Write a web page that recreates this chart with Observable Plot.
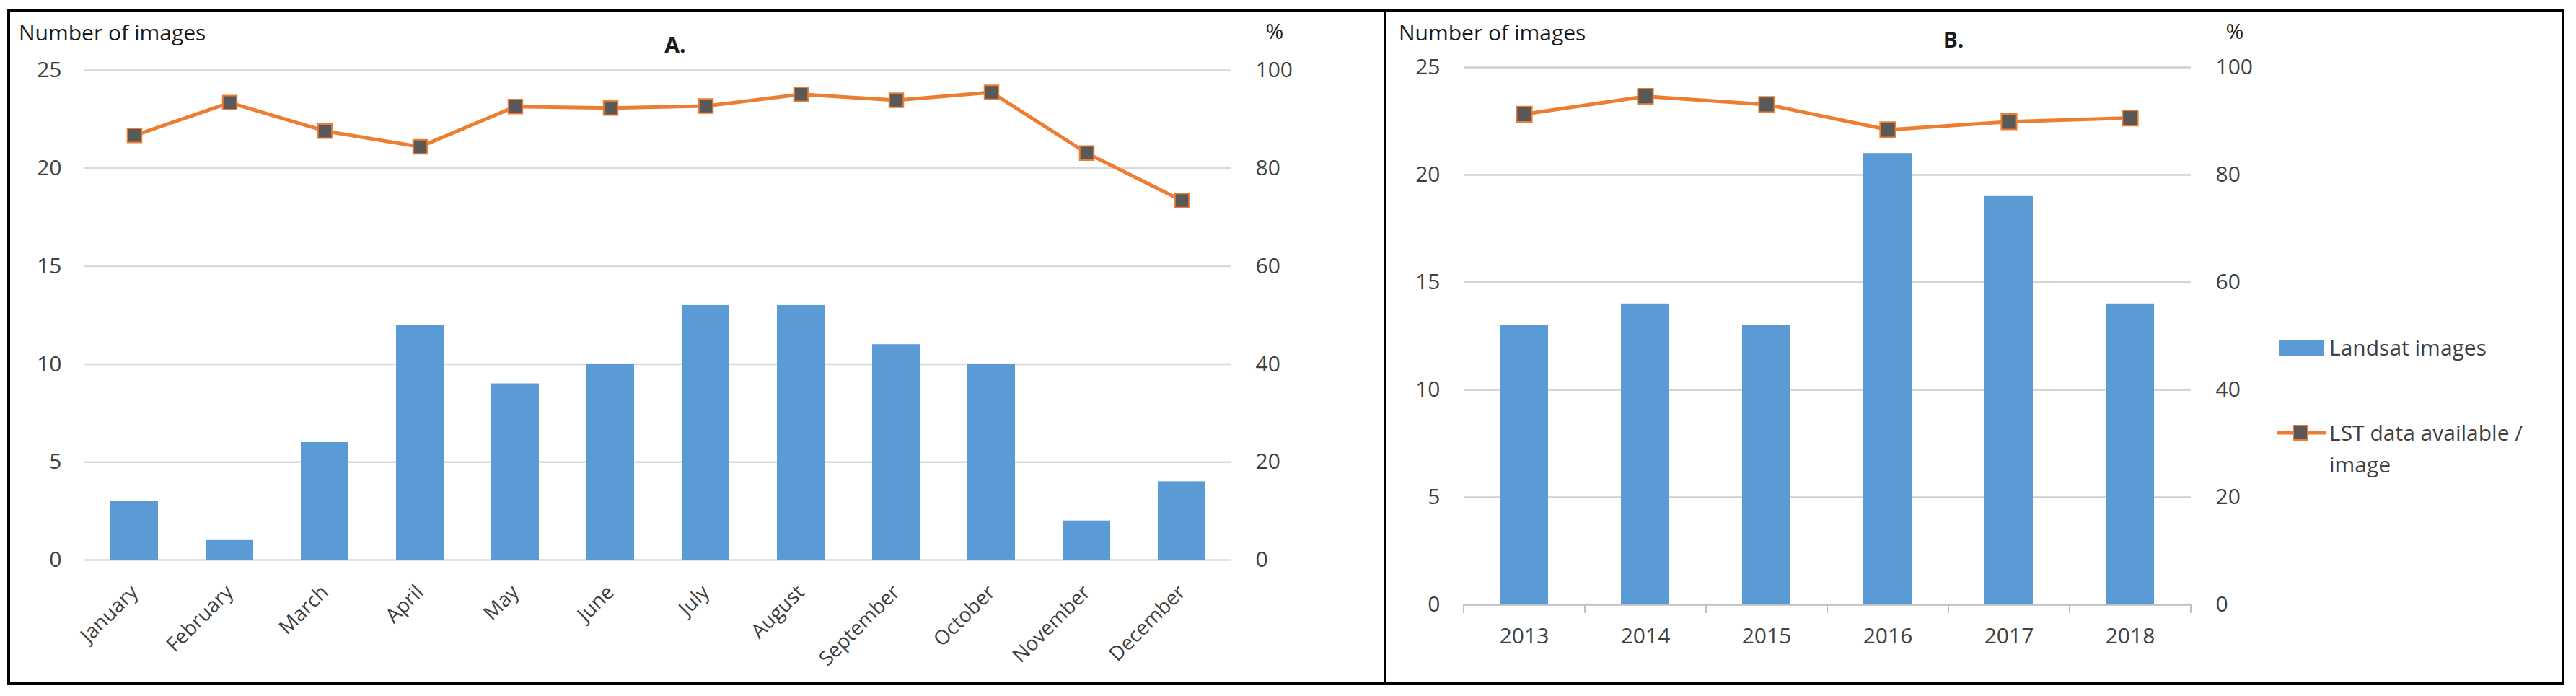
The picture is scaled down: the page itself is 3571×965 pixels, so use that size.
<!DOCTYPE html>
<html><head><meta charset="utf-8">
<script src="https://cdn.jsdelivr.net/npm/d3@7"></script>
<script src="https://cdn.jsdelivr.net/npm/@observablehq/plot@0.6"></script>
<style>
html,body{margin:0;padding:0;background:#fff;}
body{width:3571px;height:965px;overflow:hidden;position:relative;font-family:"Open Sans",sans-serif;}
.abs{position:absolute;line-height:1;white-space:nowrap;}
.t{font-size:30px;color:#1a1a1a;transform:translateY(-50%);}
.tc{transform:translate(-50%,-50%);}
.b{font-weight:bold;}
.box{position:absolute;background:#000;}
</style></head><body>
<div id="pa" class="abs" style="left:0;top:0;"></div>
<div id="pb" class="abs" style="left:1920px;top:0;"></div>

<div class="box" style="left:10px;top:12px;width:3545px;height:4px;"></div>
<div class="box" style="left:10px;top:946px;width:3545px;height:4px;"></div>
<div class="box" style="left:10px;top:12px;width:4px;height:938px;"></div>
<div class="box" style="left:3551px;top:12px;width:4px;height:938px;"></div>
<div class="box" style="left:1918px;top:12px;width:4px;height:938px;"></div>

<div class="abs t" style="left:26px;top:45px;">Number of images</div>
<div class="abs t tc b" style="left:936px;top:62px;">A.</div>
<div class="abs t tc" style="left:1767px;top:43px;">%</div>

<div class="abs t" style="left:1939px;top:45px;">Number of images</div>
<div class="abs t tc b" style="left:2708px;top:55px;">B.</div>
<div class="abs t tc" style="left:3098px;top:43px;">%</div>

<div id="legend"></div>

<script>
const months = ["January","February","March","April","May","June","July","August","September","October","November","December"];
const monthImages = [3,1,6,12,9,10,13,13,11,10,2,4];
const monthLST = [86.7,93.4,87.6,84.4,92.6,92.3,92.7,95.1,93.9,95.5,83.1,73.4];

const years = ["2013","2014","2015","2016","2017","2018"];
const yearImages = [13,14,13,21,19,14];
const yearLST = [91.3,94.6,93.1,88.4,89.9,90.6];

const leftTicks = [0,5,10,15,20,25];
const rightTicks = [0,20,40,60,80,100];

const seriesNames = ["Landsat images","LST data available /","image"];

const barColor = "#5B9BD5", lineColor = "#ED7D31", markColor = "#595959";
const toLeft = p => p * leftTicks[leftTicks.length-1] / rightTicks[rightTicks.length-1];
const rightFmt = d => rightTicks[leftTicks.indexOf(d)];

const dataA = months.map((m,i)=>({k:m, n:monthImages[i], p:toLeft(monthLST[i])}));
const dataB = years.map((y,i)=>({k:y, n:yearImages[i], p:toLeft(yearLST[i])}));

const baseStyle = {fontFamily:"'Open Sans', sans-serif", fontSize:"30px", color:"#404040", background:"transparent", overflow:"visible"};

const plotA = Plot.plot({
  width:1920, height:965,
  marginLeft:117, marginRight:213, marginTop:97, marginBottom:189,
  style: baseStyle,
  x:{domain:months, paddingInner:0.5, paddingOuter:0.25, label:null},
  y:{domain:[0,25], label:null},
  marks:[
    Plot.gridY(leftTicks, {stroke:"#d9d9d9", strokeOpacity:1, strokeWidth:2.5}),
    Plot.barY(dataA, {x:"k", y:"n", fill:barColor}),
    Plot.line(dataA, {x:"k", y:"p", stroke:lineColor, strokeWidth:5}),
    Plot.dot(dataA, {x:"k", y:"p", symbol:"square", r:11, fill:markColor, stroke:lineColor, strokeWidth:2}),
    Plot.axisY(leftTicks, {anchor:"left", tickSize:0, tickPadding:32, fontSize:30, label:null}),
    Plot.axisY(leftTicks, {anchor:"right", tickSize:0, tickPadding:33, fontSize:30, label:null, tickFormat:rightFmt}),
    Plot.axisX({tickSize:0, tickPadding:40, tickRotate:-45, fontSize:28, label:null})
  ]
});
document.getElementById("pa").appendChild(plotA);

const plotB = Plot.plot({
  width:1651, height:965,
  marginLeft:109, marginRight:534, marginTop:93, marginBottom:127,
  style: baseStyle,
  x:{domain:years, paddingInner:0.6, paddingOuter:0.3, label:null},
  y:{domain:[0,25], label:null},
  marks:[
    Plot.gridY(leftTicks.slice(1), {stroke:"#cfcfcf", strokeOpacity:1, strokeWidth:2.5}),
    Plot.barY(dataB, {x:"k", y:"n", fill:barColor}),
    Plot.ruleY([0], {stroke:"#bfbfbf", strokeWidth:2.5}),
    Plot.axisX({tickSize:12, dx:-84, stroke:"#bfbfbf", strokeWidth:2, tickFormat:()=>"", label:null}),
    Plot.axisX([years[years.length-1]], {tickSize:12, dx:84, stroke:"#bfbfbf", strokeWidth:2, tickFormat:()=>"", label:null}),
    Plot.line(dataB, {x:"k", y:"p", stroke:lineColor, strokeWidth:5}),
    Plot.dot(dataB, {x:"k", y:"p", symbol:"square", r:12, fill:markColor, stroke:lineColor, strokeWidth:2}),
    Plot.axisY(leftTicks, {anchor:"left", tickSize:0, tickPadding:33, fontSize:30, label:null}),
    Plot.axisY(leftTicks, {anchor:"right", tickSize:0, tickPadding:34, fontSize:30, label:null, tickFormat:rightFmt}),
    Plot.axisX({tickSize:0, tickPadding:32, fontSize:30, label:null})
  ]
});
document.getElementById("pb").appendChild(plotB);

// legend
const lg = document.getElementById("legend");
lg.innerHTML = `
<div class="abs" style="left:3159px;top:471px;width:62px;height:22px;background:${barColor};"></div>
<div class="abs t" style="left:3229px;top:482px;font-size:30px;color:#404040;">${seriesNames[0]}</div>
<svg class="abs" style="left:3155px;top:585px;" width="72" height="30">
  <line x1="2" y1="15" x2="70" y2="15" stroke="${lineColor}" stroke-width="5"/>
  <rect x="24" y="5" width="20" height="20" fill="${markColor}" stroke="${lineColor}" stroke-width="2"/>
</svg>
<div class="abs t" style="left:3229px;top:600px;font-size:30px;color:#404040;">${seriesNames[1]}</div>
<div class="abs t" style="left:3229px;top:644px;font-size:30px;color:#404040;">${seriesNames[2]}</div>
`;
</script>
</body></html>
